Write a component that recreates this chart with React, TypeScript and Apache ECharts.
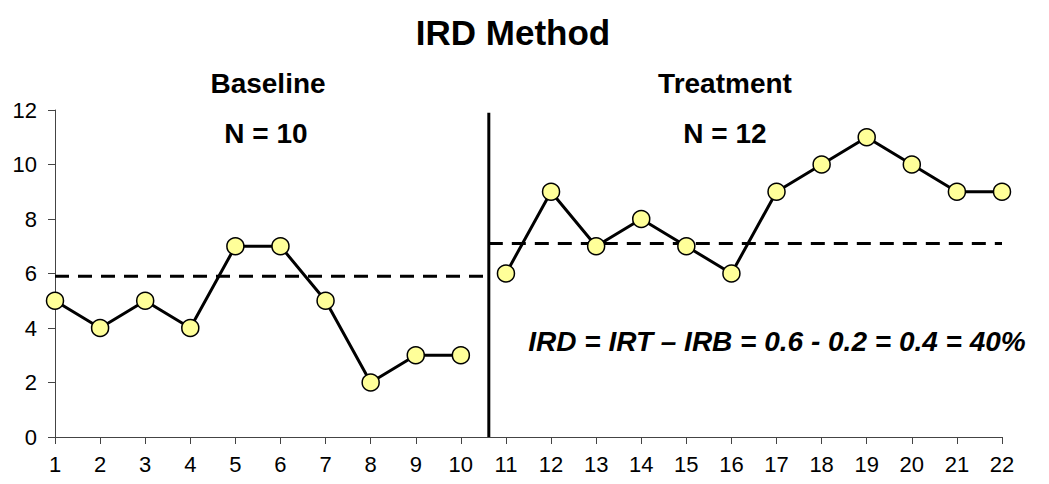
import React, { useEffect, useRef } from "react";
import * as echarts from "echarts";

const sessions = Array.from({ length: 22 }, (_, i) => i + 1);
const baselineSessions = [1, 2, 3, 4, 5, 6, 7, 8, 9, 10];
const baselineValues = [5, 4, 5, 4, 7, 7, 5, 2, 3, 3];
const treatmentSessions = [11, 12, 13, 14, 15, 16, 17, 18, 19, 20, 21, 22];
const treatmentValues = [6, 9, 7, 8, 7, 6, 9, 10, 11, 10, 9, 9];
const baselineLevel = 5.9;
const treatmentLevel = 7.1;
const phaseChange = 10.62;
const phaseTop = 11.9;
const yTicks = [0, 2, 4, 6, 8, 10, 12];

const FONT = "'Liberation Sans', Arial, sans-serif";

export default function App() {
  const ref = useRef<HTMLDivElement>(null);
  useEffect(() => {
    if (!ref.current) return;
    const chart = echarts.init(ref.current, null, { renderer: "svg" });
    const markerStyle = { color: "#ffff99", borderColor: "#000", borderWidth: 1.5 };
    const label = (text: string, x: number, y: number, size: number, italic = false) => ({
      type: "text",
      x,
      y,
      style: {
        text,
        font: `${italic ? "italic " : ""}bold ${size}px ${FONT}`,
        fill: "#000",
        textAlign: "center",
        textVerticalAlign: "middle",
      },
    });
    chart.setOption({
      animation: false,
      backgroundColor: "#fff",
      grid: { left: 55, right: 47, top: 110, bottom: 47 },
      xAxis: {
        type: "value",
        min: sessions[0],
        max: sessions[sessions.length - 1],
        interval: 1,
        splitLine: { show: false },
        axisLine: { show: true, lineStyle: { color: "#444", width: 1 } },
        axisTick: { show: true, length: 7, lineStyle: { color: "#444" } },
        axisLabel: { fontFamily: FONT, fontSize: 22, color: "#000", margin: 16 },
      },
      yAxis: {
        type: "value",
        min: yTicks[0],
        max: yTicks[yTicks.length - 1],
        interval: 2,
        splitLine: { show: false },
        axisLine: { show: true, lineStyle: { color: "#444", width: 1 } },
        axisTick: { show: true, length: 7, lineStyle: { color: "#444" } },
        axisLabel: { fontFamily: FONT, fontSize: 22, color: "#000", margin: 18 },
      },
      series: [
        {
          type: "line",
          data: [[sessions[0], baselineLevel], [phaseChange, baselineLevel]],
          symbol: "none",
          lineStyle: { color: "#000", width: 3, type: [14, 9] },
          z: 1,
        },
        {
          type: "line",
          data: [[phaseChange, treatmentLevel], [sessions[sessions.length - 1], treatmentLevel]],
          symbol: "none",
          lineStyle: { color: "#000", width: 3, type: [14, 9] },
          z: 1,
        },
        {
          type: "line",
          data: [[phaseChange, 0], [phaseChange, phaseTop]],
          symbol: "none",
          lineStyle: { color: "#000", width: 3 },
          z: 1,
        },
        {
          type: "line",
          data: baselineSessions.map((s, i) => [s, baselineValues[i]]),
          symbol: "circle",
          symbolSize: 17,
          itemStyle: markerStyle,
          lineStyle: { color: "#000", width: 3 },
          z: 3,
        },
        {
          type: "line",
          data: treatmentSessions.map((s, i) => [s, treatmentValues[i]]),
          symbol: "circle",
          symbolSize: 17,
          itemStyle: markerStyle,
          lineStyle: { color: "#000", width: 3 },
          z: 3,
        },
      ],
      graphic: [
        label("IRD Method", 513, 32, 35),
        label("Baseline", 268, 83, 28),
        label("Treatment", 725, 83, 28),
        label("N = 10", 266, 133, 28),
        label("N = 12", 725, 133, 28),
        label("IRD = IRT \u2013 IRB = 0.6 - 0.2 = 0.4 = 40%", 777, 341, 28, true),
      ],
    });
    return () => chart.dispose();
  }, []);
  return <div ref={ref} style={{ width: 1049, height: 484, margin: -8 }} />;
}
